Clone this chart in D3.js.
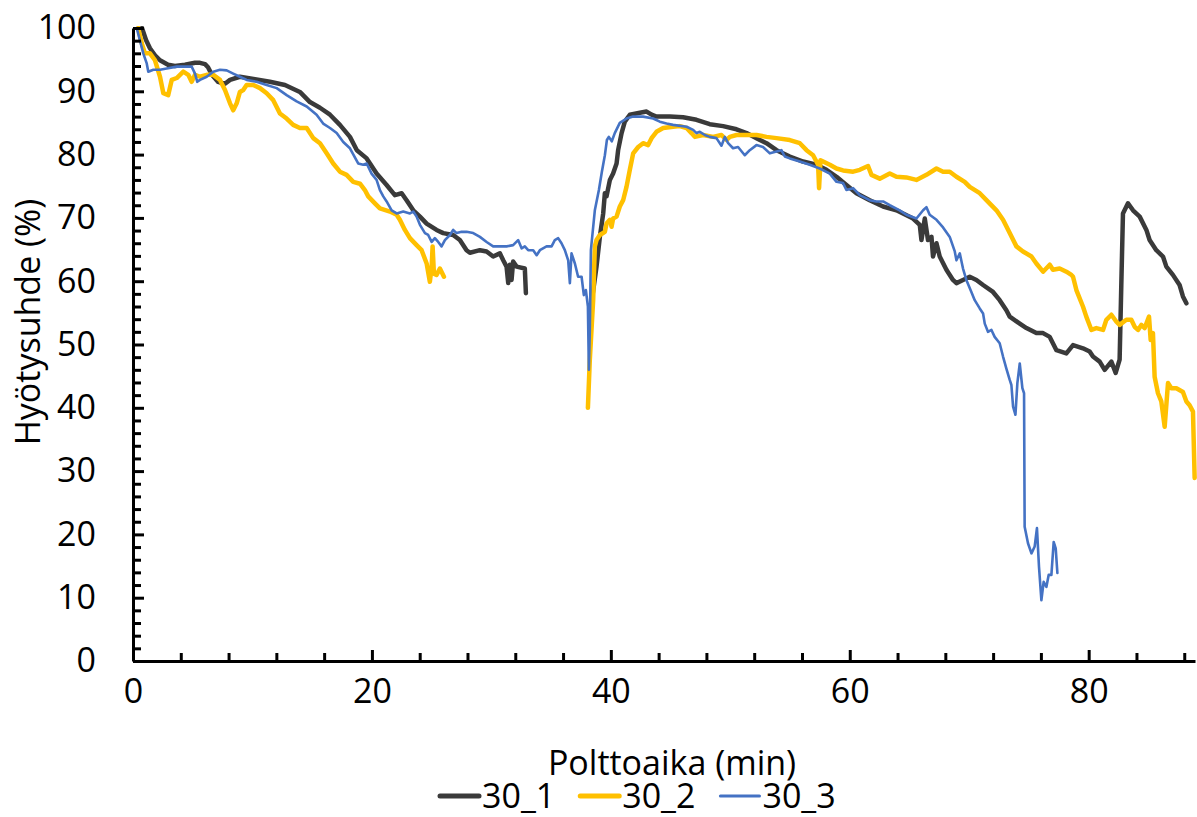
<!DOCTYPE html>
<html>
<head>
<meta charset="utf-8">
<script src="https://cdn.jsdelivr.net/npm/d3@7"></script>
<style>
  body { margin: 0; background: #fff; }
  svg text { font-family: "Open Sans", "Noto Sans", sans-serif; fill: #000; }
</style>
</head>
<body>
<svg id="chart" width="1197" height="817"></svg>
<script>
// burn time (min) and efficiency (%)
const seriesNames = ['30_1', '30_2', '30_3'];
const seriesColors = ['#3a3a3a', '#ffc000', '#4472c4'];
const seriesWidths = [4.5, 4.5, 2.6];

// null breaks the line (gap in measurements)
const eff30_1 = [
  [0.75,100],[1.09,98.1],[1.42,96.8],[1.84,95.7],[2.26,94.9],[2.93,94.2],[3.51,94.0],[4.35,94.2],
  [5.19,94.5],[5.61,94.5],[6.03,94.3],[6.28,93.8],[6.61,92.6],[7.11,91.5],[7.70,91.2],[8.12,91.8],
  [8.95,92.3],[10.21,91.9],[11.46,91.5],[12.72,91.0],[13.97,89.9],[14.81,88.3],[15.65,87.4],[16.49,86.3],
  [17.32,84.7],[18.16,82.8],[18.74,80.7],[19.56,79.4],[20.39,77.0],[21.23,75.2],[21.92,73.6],[22.49,73.9],
  [22.90,72.8],[23.46,71.2],[24.02,70.2],[24.58,69.1],[25.41,68.1],[25.97,67.6],[26.80,67.3],[27.36,66.5],
  [27.92,64.9],[28.20,64.5],[29.04,64.9],[29.60,64.7],[30.15,63.9],[30.71,64.4],[30.99,63.3],[31.27,62.3],
  [31.41,59.7],[31.55,62.6],[31.69,60.2],[31.82,63.1],[32.11,62.3],[32.80,62.0],[32.89,58.1],
  null,
  [38.41,57.0],[38.80,62.3],[39.08,67.0],[39.36,70.7],[39.50,73.9],[39.64,73.4],[39.92,76.0],[40.19,77.0],
  [40.48,78.6],[40.61,80.7],[40.90,83.4],[41.17,85.2],[41.59,86.3],[42.43,86.6],[42.99,86.8],[43.41,86.3],
  [43.82,86.0],[44.94,86.0],[46.05,85.9],[47.17,85.5],[48.28,84.8],[49.40,84.5],[50.52,84.0],[51.36,83.4],
  [52.19,82.6],[53.03,81.8],[53.87,80.7],[54.98,79.7],[56.09,78.9],[57.21,78.4],[58.05,77.6],[58.89,76.5],
  [59.72,75.2],[60.56,73.9],[61.67,72.8],[62.79,71.8],[63.91,71.2],[65.30,69.9],[65.86,68.9],[66.00,66.5],
  [66.28,69.9],[66.55,66.5],[66.84,67.0],[66.97,63.9],[67.26,66.0],[67.53,63.9],[68.09,61.8],[68.64,60.2],
  [68.93,59.7],[69.48,60.2],[70.04,60.7],[70.60,60.2],[71.16,59.4],[71.99,58.3],[72.55,57.0],[73.11,55.4],
  [73.39,54.4],[74.23,53.3],[74.79,52.6],[75.62,51.8],[76.18,51.8],[76.74,51.2],[77.30,49.1],[78.13,48.6],
  [78.69,49.9],[79.52,49.4],[80.08,48.9],[80.36,48.1],[80.92,47.3],[81.34,46.0],[81.90,47.3],[82.26,45.5],
  [82.59,47.6],[82.74,60.2],[82.87,70.7],[83.29,72.3],[83.71,71.2],[84.27,70.2],[84.83,68.1],[85.10,66.5],
  [85.66,64.9],[86.22,63.9],[86.50,62.3],[87.05,61.0],[87.61,59.4],[87.89,57.6],[88.18,56.5]
];

const eff30_2 = [
  [0.44,100],[0.73,97.6],[1.00,96.0],[1.42,96.0],[1.84,94.9],[2.26,92.3],[2.54,89.7],[2.95,89.4],
  [3.24,91.8],[3.66,92.1],[4.21,93.1],[4.63,92.6],[4.91,91.5],[5.19,92.6],[5.61,92.3],[6.17,92.6],
  [6.72,92.6],[7.28,91.8],[7.70,90.2],[8.12,88.1],[8.39,87.0],[8.68,88.1],[8.95,89.9],[9.23,90.2],
  [9.51,91.0],[10.07,91.0],[10.63,90.5],[11.19,89.7],[11.74,88.6],[12.30,86.5],[12.86,85.7],[13.41,84.7],
  [13.97,84.2],[14.54,84.2],[15.09,82.6],[15.65,81.8],[16.21,80.2],[16.76,78.6],[17.32,77.3],[17.88,76.8],
  [18.44,75.7],[19.00,75.4],[19.41,74.4],[19.69,73.4],[20.25,72.3],[20.67,71.5],[21.51,71.0],[22.07,70.5],
  [22.34,69.7],[22.76,68.1],[23.18,66.8],[23.74,65.7],[24.16,64.9],[24.58,62.8],[24.85,59.9],[25.00,62.3],
  [25.08,65.5],[25.19,61.2],[25.41,61.0],[25.69,62.0],[26.03,60.7],
  null,
  [38.08,40.0],[38.24,47.6],[38.52,57.0],[38.66,65.5],[38.80,66.5],[39.08,67.3],[39.50,67.8],[39.64,69.1],
  [39.92,69.7],[40.06,68.6],[40.19,69.9],[40.48,70.2],[40.75,71.8],[41.03,72.8],[41.31,74.9],[41.59,77.6],
  [41.87,80.2],[42.29,81.2],[42.70,81.8],[43.12,81.5],[43.41,82.6],[43.82,83.6],[44.38,84.2],[45.21,84.4],
  [45.77,84.5],[46.34,84.2],[46.75,83.4],[47.03,82.8],[47.72,83.1],[48.56,82.8],[49.26,83.1],[49.68,82.3],
  [49.96,82.8],[50.52,83.1],[51.36,83.1],[52.19,83.1],[53.03,82.8],[53.87,82.6],[54.98,82.3],[55.82,81.8],
  [56.38,80.7],[56.93,79.9],[57.35,78.4],[57.43,74.7],[57.55,79.1],[57.77,78.9],[58.33,78.4],[58.89,77.8],
  [59.44,77.5],[60.28,77.3],[60.84,77.6],[61.53,78.2],[61.82,76.8],[62.51,76.2],[63.35,77.0],[63.91,76.5],
  [64.74,76.4],[65.58,76.0],[66.42,76.8],[67.26,77.8],[67.81,77.3],[68.37,77.3],[68.93,76.5],[69.62,75.7],
  [70.04,74.9],[70.88,73.9],[71.44,72.8],[72.28,71.2],[72.83,69.7],[73.39,67.6],[73.95,65.5],[74.50,64.7],
  [75.21,63.9],[75.62,62.8],[76.18,61.5],[76.74,62.6],[77.01,61.8],[77.57,62.0],[78.13,61.5],[78.55,61.0],
  [78.69,60.7],[78.97,58.6],[79.52,56.0],[79.80,54.4],[80.23,52.3],[80.64,52.6],[81.20,52.3],[81.48,53.9],
  [81.90,54.7],[82.32,53.6],[82.59,53.1],[83.15,53.9],[83.57,53.9],[83.85,52.8],[84.13,52.3],[84.41,53.1],
  [84.69,52.6],[85.05,54.4],[85.19,50.7],[85.38,51.8],[85.52,44.9],[85.80,42.3],[86.08,41.0],[86.36,37.0],
  [86.64,43.9],[86.92,43.1],[87.34,43.1],[87.89,42.5],[88.18,41.0],[88.45,40.4],[88.73,39.4],[88.87,28.9]
];

const eff30_3 = [
  [0.31,100],[0.86,96.0],[1.15,94.4],[1.28,93.1],[1.70,93.4],[2.26,93.4],[2.82,93.6],[3.66,93.9],
  [4.49,93.9],[4.91,93.9],[5.19,92.8],[5.38,91.5],[5.61,91.8],[6.17,92.3],[6.72,93.1],[7.28,93.4],
  [7.84,93.3],[8.39,92.8],[8.95,92.3],[9.51,91.8],[10.35,91.5],[11.19,91.0],[12.03,90.5],[12.86,89.4],
  [13.70,88.4],[14.54,87.6],[15.37,86.3],[15.92,84.9],[16.49,84.2],[17.05,83.4],[17.60,82.0],[18.16,81.0],
  [18.85,78.6],[19.27,78.4],[19.56,78.6],[19.97,77.0],[20.39,76.0],[20.67,74.4],[20.95,73.4],[21.23,72.6],
  [21.65,71.2],[22.07,70.7],[22.62,71.0],[23.18,70.7],[23.46,71.0],[23.74,70.2],[24.02,68.9],[24.44,67.6],
  [24.71,67.3],[25.00,66.2],[25.27,66.8],[25.55,66.2],[25.83,65.5],[26.11,66.5],[26.53,67.3],[26.80,68.1],
  [27.09,67.6],[27.51,67.8],[27.92,67.8],[28.48,67.6],[29.04,67.0],[29.60,66.2],[30.15,65.5],[30.71,65.5],
  [31.27,65.5],[31.82,65.7],[32.24,66.5],[32.53,65.2],[32.80,65.5],[33.08,64.9],[33.50,64.9],[33.79,64.1],
  [34.06,64.9],[34.62,65.5],[35.04,65.5],[35.31,66.5],[35.59,66.8],[35.87,66.0],[36.15,64.9],[36.43,63.3],
  [36.57,59.7],[36.71,64.4],[36.99,62.8],[37.26,60.7],[37.55,60.7],[37.74,57.8],[37.91,58.6],[38.08,56.0],
  [38.16,46.0],[38.24,52.3],[38.33,64.9],[38.66,71.2],[39.00,74.4],[39.25,77.3],[39.50,79.9],[39.67,82.3],
  [39.83,82.8],[40.08,82.1],[40.33,83.4],[40.75,85.0],[41.31,85.7],[41.87,86.0],[42.70,86.0],[43.54,85.7],
  [44.10,85.2],[44.66,84.9],[45.21,84.7],[46.34,84.4],[46.89,83.9],[47.17,83.4],[47.45,83.6],[47.87,83.1],
  [48.28,82.8],[48.84,82.6],[49.26,81.4],[49.54,82.8],[49.82,81.8],[50.23,81.0],[50.65,81.2],[51.21,79.9],
  [51.63,80.7],[52.19,81.5],[52.74,81.2],[53.31,80.2],[53.87,80.5],[54.28,80.7],[54.56,79.7],[54.98,79.4],
  [55.82,78.9],[56.65,78.4],[57.49,77.8],[58.33,77.0],[58.89,75.7],[59.44,75.5],[59.72,74.4],[60.28,74.7],
  [60.84,73.6],[61.67,72.8],[62.23,72.6],[62.79,72.6],[63.35,72.0],[64.18,71.2],[64.74,70.5],[65.58,69.9],
  [66.14,71.2],[66.42,71.7],[66.69,70.5],[67.26,69.7],[67.81,68.5],[68.37,67.0],[68.79,64.7],[68.93,63.3],
  [69.21,64.4],[69.48,62.0],[69.76,60.2],[70.18,58.3],[70.46,57.0],[70.88,55.7],[71.16,54.9],[71.30,53.3],
  [71.57,52.0],[71.86,52.3],[72.13,51.2],[72.55,50.2],[72.83,48.1],[73.11,46.2],[73.39,44.4],[73.53,43.6],
  [73.67,40.2],[73.87,38.9],[74.03,43.9],[74.23,47.0],[74.45,43.1],[74.59,42.3],[74.64,21.2],[74.92,18.6],
  [75.21,17.0],[75.48,18.1],[75.67,21.0],[75.84,14.9],[76.04,9.6],[76.23,12.5],[76.46,11.7],[76.65,13.6],
  [76.88,13.6],[77.07,18.8],[77.24,17.8],[77.38,13.9]
];

const seriesData = [eff30_1, eff30_2, eff30_3];

const xMajorTicks = [0, 20, 40, 60, 80];
const yMajorTicks = [0, 10, 20, 30, 40, 50, 60, 70, 80, 90, 100];

const xTitle = 'Polttoaika (min)';
const yTitle = 'Hyötysuhde (%)';

// layout
const margin = {top: 28, right: 2, bottom: 156, left: 133};
const fullW = 1197, fullH = 817;
const w = fullW - margin.left - margin.right;
const h = fullH - margin.top - margin.bottom;
const fontSize = 34;

const svg = d3.select('#chart');
const g = svg.append('g').attr('transform', `translate(${margin.left},${margin.top})`);

const x = d3.scaleLinear().domain([0, 88.9]).range([0, w]);
const y = d3.scaleLinear().domain([0, 100]).range([h, 0]);

svg.append('defs').append('clipPath').attr('id', 'plot-clip')
    .append('rect').attr('x', 0).attr('y', -2).attr('width', w + 4).attr('height', h + 2);

// lines
const line = d3.line()
    .defined(d => d !== null)
    .x(d => x(d[0]))
    .y(d => y(d[1]));

g.append('g').attr('clip-path', 'url(#plot-clip)')
    .selectAll('path')
    .data(seriesData)
    .join('path')
    .attr('d', line)
    .attr('fill', 'none')
    .attr('stroke', (d, i) => seriesColors[i])
    .attr('stroke-width', (d, i) => seriesWidths[i])
    .attr('stroke-linejoin', 'round')
    .attr('stroke-linecap', 'round');

// minor ticks (every 4 min / every 2 %)
const xMinor = d3.range(4, 89, 4).filter(v => v % 20 !== 0);
const yMinor = d3.range(2, 100, 2).filter(v => v % 10 !== 0);

g.append('g')
    .attr('transform', `translate(0,${h})`)
    .call(d3.axisBottom(x).tickValues(xMinor).tickSize(-8).tickSizeOuter(0).tickFormat(''))
    .call(a => a.select('.domain').remove());
g.append('g')
    .call(d3.axisLeft(y).tickValues(yMinor).tickSize(-8).tickSizeOuter(0).tickFormat(''))
    .call(a => a.select('.domain').remove());

// major axes
const xAxis = g.append('g')
    .attr('transform', `translate(0,${h})`)
    .call(d3.axisBottom(x).tickValues(xMajorTicks).tickSize(-11).tickSizeOuter(0).tickPadding(18));
const yAxis = g.append('g')
    .call(d3.axisLeft(y).tickValues(yMajorTicks).tickSize(-11).tickSizeOuter(0).tickPadding(37));

g.selectAll('.tick line').attr('stroke', '#000').attr('stroke-width', 3);
[xAxis, yAxis].forEach(a => {
    a.select('.domain').attr('stroke', '#000').attr('stroke-width', 3);
    a.selectAll('text').attr('font-size', fontSize).attr('font-family', '"Open Sans", sans-serif');
});

// axis titles
svg.append('text')
    .attr('x', 672).attr('y', 775)
    .attr('text-anchor', 'middle')
    .attr('font-size', fontSize)
    .text(xTitle);

svg.append('text')
    .attr('transform', 'translate(40,322) rotate(-90)')
    .attr('text-anchor', 'middle')
    .attr('font-size', fontSize)
    .text(yTitle);

// legend
const legend = svg.append('g').attr('transform', 'translate(440,808)');
let lx = 0;
seriesNames.forEach((name, i) => {
    const item = legend.append('g').attr('transform', `translate(${lx},0)`);
    item.append('line')
        .attr('x1', 0).attr('x2', 39)
        .attr('y1', -12).attr('y2', -12)
        .attr('stroke', seriesColors[i])
        .attr('stroke-width', seriesWidths[i] + 0.5)
        .attr('stroke-linecap', 'round');
    const t = item.append('text')
        .attr('x', 42)
        .attr('font-size', fontSize)
        .text(name);
    lx += 42 + t.node().getComputedTextLength() + 25;
});
</script>
</body>
</html>
